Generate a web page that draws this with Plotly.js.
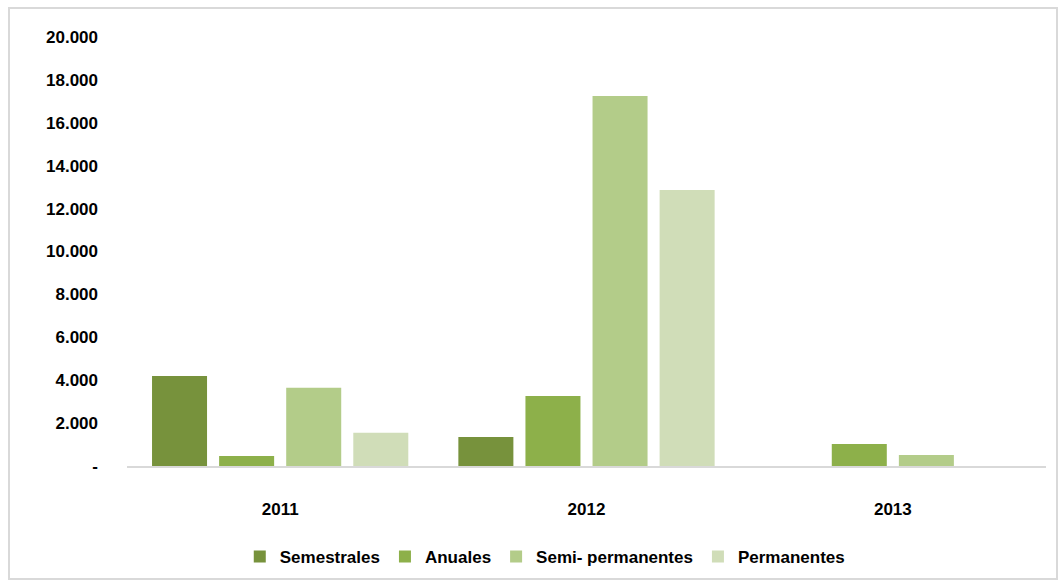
<!DOCTYPE html>
<html>
<head>
<meta charset="utf-8">
<script src="https://cdn.plot.ly/plotly-3.0.1.min.js"></script>
<style>
  html, body { margin: 0; padding: 0; background: #fff; }
  #frame { position: absolute; left: 8px; top: 7px; width: 1046px; height: 569px; border: 2px solid #d9d9d9; }
  #chart { position: absolute; left: 0; top: 0; width: 1064px; height: 585px; }
</style>
</head>
<body>
<div id="frame"></div>
<div id="chart"></div>
<script>
const categories = ["2011", "2012", "2013"];
const seriesNames = ["Semestrales", "Anuales", "Semi- permanentes", "Permanentes"];
const semestrales = [4200, 1350, 0];
const anuales = [470, 3260, 1030];
const semiPermanentes = [3650, 17250, 510];
const permanentes = [1550, 12870, 0];
const yTickVals = [0, 2000, 4000, 6000, 8000, 10000, 12000, 14000, 16000, 18000, 20000];
const yTickText = ["-", "2.000", "4.000", "6.000", "8.000", "10.000", "12.000", "14.000", "16.000", "18.000", "20.000"];

const colors = ["#77923c", "#8db04a", "#b3cc89", "#d0ddb8"];
const values = [semestrales, anuales, semiPermanentes, permanentes];

const traces = values.map((v, i) => ({
  type: "bar",
  name: seriesNames[i],
  x: categories,
  y: v,
  marker: { color: colors[i] },
  hoverinfo: "x+y+name"
}));

const fontFam = "Liberation Sans, Arial, sans-serif";

const layout = {
  width: 1064,
  height: 585,
  margin: { l: 127, r: 18, t: 37, b: 119 },
  paper_bgcolor: "rgba(0,0,0,0)",
  plot_bgcolor: "rgba(0,0,0,0)",
  barmode: "group",
  bargap: 0.124,
  bargroupgap: 0.18,
  font: { family: fontFam, size: 17, color: "#000" },
  xaxis: {
    type: "category",
    showline: true,
    linecolor: "#d9d9d9",
    linewidth: 2,
    ticks: "",
    ticklabelstandoff: 27,
    tickfont: { family: fontFam, size: 17, color: "#000", weight: "bold" },
    fixedrange: true
  },
  yaxis: {
    range: [0, 20000],
    tickvals: yTickVals,
    ticktext: yTickText,
    showgrid: false,
    zeroline: false,
    showline: false,
    ticks: "",
    ticklabelstandoff: 28,
    tickfont: { family: fontFam, size: 17, color: "#000", weight: "bold" },
    fixedrange: true
  },
  showlegend: true,
  legend: {
    orientation: "h",
    xref: "container",
    yref: "container",
    x: 0.512,
    xanchor: "center",
    y: 0.048,
    yanchor: "middle",
    font: { family: fontFam, size: 17, color: "#000", weight: "bold" },
    itemwidth: 30,
    tracegroupgap: 0
  }
};

Plotly.newPlot("chart", traces, layout, { displayModeBar: false, staticPlot: true });
</script>
</body>
</html>
